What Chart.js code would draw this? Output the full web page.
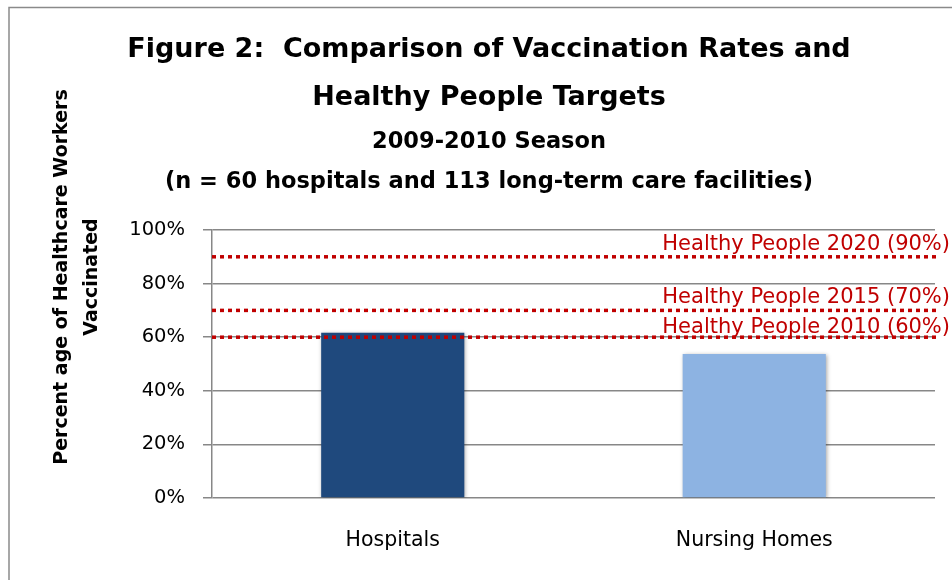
<!DOCTYPE html>
<html>
<head>
<meta charset="utf-8">
<script src="https://cdn.jsdelivr.net/npm/chart.js@4/dist/chart.umd.min.js"></script>
<style>
  html, body { margin: 0; padding: 0; background: #fff; }
  #wrap { position: relative; width: 952px; height: 580px; }
</style>
</head>
<body>
<div id="wrap"><canvas id="vaxChart"></canvas></div>
<script>
const categories = ['Hospitals', 'Nursing Homes'];
const rates = [61.7, 53.7];
const barColors = ['#1F497D', '#8DB3E2'];
const targetNames = ['Healthy People 2020 (90%)', 'Healthy People 2015 (70%)', 'Healthy People 2010 (60%)'];
const targetValues = [90, 70, 60];
const yTicks = [0, 20, 40, 60, 80, 100];

const titleLines = ['Figure 2:  Comparison of Vaccination Rates and', 'Healthy People Targets'];
const subtitleLines = ['2009-2010 Season', '(n = 60 hospitals and 113 long-term care facilities)'];
const yTitleLines = ['Percent age of Healthcare Workers', 'Vaccinated'];

const FONT = "'DejaVu Sans', 'Liberation Sans', sans-serif";
const gridGray = '#878787';
const targetRed = '#C00000';

// thin grey frame like the pasted Excel chart
const frame = {
  id: 'frame',
  beforeDraw(chart) {
    const ctx = chart.ctx;
    ctx.save();
    ctx.fillStyle = '#fff';
    ctx.fillRect(0, 0, chart.width, chart.height);
    ctx.strokeStyle = '#8a8a8a';
    ctx.lineWidth = 1.5;
    ctx.beginPath();
    ctx.moveTo(9, chart.height);
    ctx.lineTo(9, 7.5);
    ctx.lineTo(chart.width, 7.5);
    ctx.stroke();
    ctx.restore();
  }
};

// soft shadow under the bars
const barShadow = {
  id: 'barShadow',
  beforeDatasetDraw(chart) {
    const ctx = chart.ctx;
    ctx.save();
    ctx.shadowColor = 'rgba(0,0,0,0.35)';
    ctx.shadowBlur = 4;
    ctx.shadowOffsetX = 1;
    ctx.shadowOffsetY = 1;
  },
  afterDatasetDraw(chart) {
    chart.ctx.restore();
  }
};

// two-line rotated axis title, sitting higher than the axis centre
const yTitle = {
  id: 'yTitle',
  afterDraw(chart) {
    const ctx = chart.ctx;
    ctx.save();
    ctx.font = `bold 19px ${FONT}`;
    ctx.fillStyle = '#000';
    ctx.textAlign = 'center';
    ctx.textBaseline = 'middle';
    yTitleLines.forEach((line, i) => {
      ctx.save();
      ctx.translate(62 + i * 30, 277);
      ctx.rotate(-Math.PI / 2);
      ctx.fillText(line, 0, 0);
      ctx.restore();
    });
    ctx.restore();
  }
};

// dotted target lines with their labels
const targets = {
  id: 'targets',
  afterDatasetsDraw(chart) {
    const { ctx, chartArea, scales } = chart;
    ctx.save();
    ctx.strokeStyle = targetRed;
    ctx.lineWidth = 3.5;
    ctx.setLineDash([4, 4]);
    ctx.font = `21px ${FONT}`;
    ctx.fillStyle = targetRed;
    ctx.textAlign = 'right';
    ctx.textBaseline = 'alphabetic';
    targetValues.forEach((v, i) => {
      const y = scales.y.getPixelForValue(v);
      ctx.beginPath();
      ctx.moveTo(chartArea.left, y);
      ctx.lineTo(chartArea.right + 5, y);
      ctx.stroke();
      // the lowest label sits a little tighter on its line
      ctx.fillText(targetNames[i], chart.width - 2, y - (i === 2 ? 4 : 7));
    });
    ctx.restore();
  }
};

new Chart(document.getElementById('vaxChart'), {
  type: 'bar',
  data: {
    labels: categories,
    datasets: [{
      data: rates,
      backgroundColor: barColors,
      borderWidth: 0,
      categoryPercentage: 1,
      barPercentage: 0.396
    }]
  },
  options: {
    responsive: true,
    maintainAspectRatio: false,
    animation: false,
    layout: { padding: { left: 43, right: 17, top: 0, bottom: 0 } },
    plugins: {
      legend: { display: false },
      tooltip: { enabled: false },
      title: {
        display: true,
        text: titleLines,
        color: '#000',
        font: { family: FONT, size: 27, weight: 'bold', lineHeight: '48px' },
        padding: { top: 26, bottom: 0 }
      },
      subtitle: {
        display: true,
        text: subtitleLines,
        color: '#000',
        font: { family: FONT, size: 22.5, weight: 'bold', lineHeight: '40px' },
        padding: { top: 0, bottom: 28 }
      }
    },
    scales: {
      x: {
        grid: { display: false, drawTicks: false },
        border: { display: false },
        ticks: { color: '#000', padding: 30, font: { family: FONT, size: 20.5 } },
        afterFit(scale) { scale.height = 82; }
      },
      y: {
        min: 0, max: 100,
        afterBuildTicks(scale) { scale.ticks = yTicks.map(v => ({ value: v })); },
        grid: { color: gridGray, lineWidth: 1.5, tickLength: 9, tickColor: gridGray },
        border: { color: gridGray, width: 1.5 },
        ticks: {
          color: '#000', padding: 18,
          font: { family: FONT, size: 19.5 },
          callback: v => v + '%'
        },
        afterFit(scale) { scale.width = 169; }
      }
    }
  },
  plugins: [frame, barShadow, targets, yTitle]
});
</script>
</body>
</html>
